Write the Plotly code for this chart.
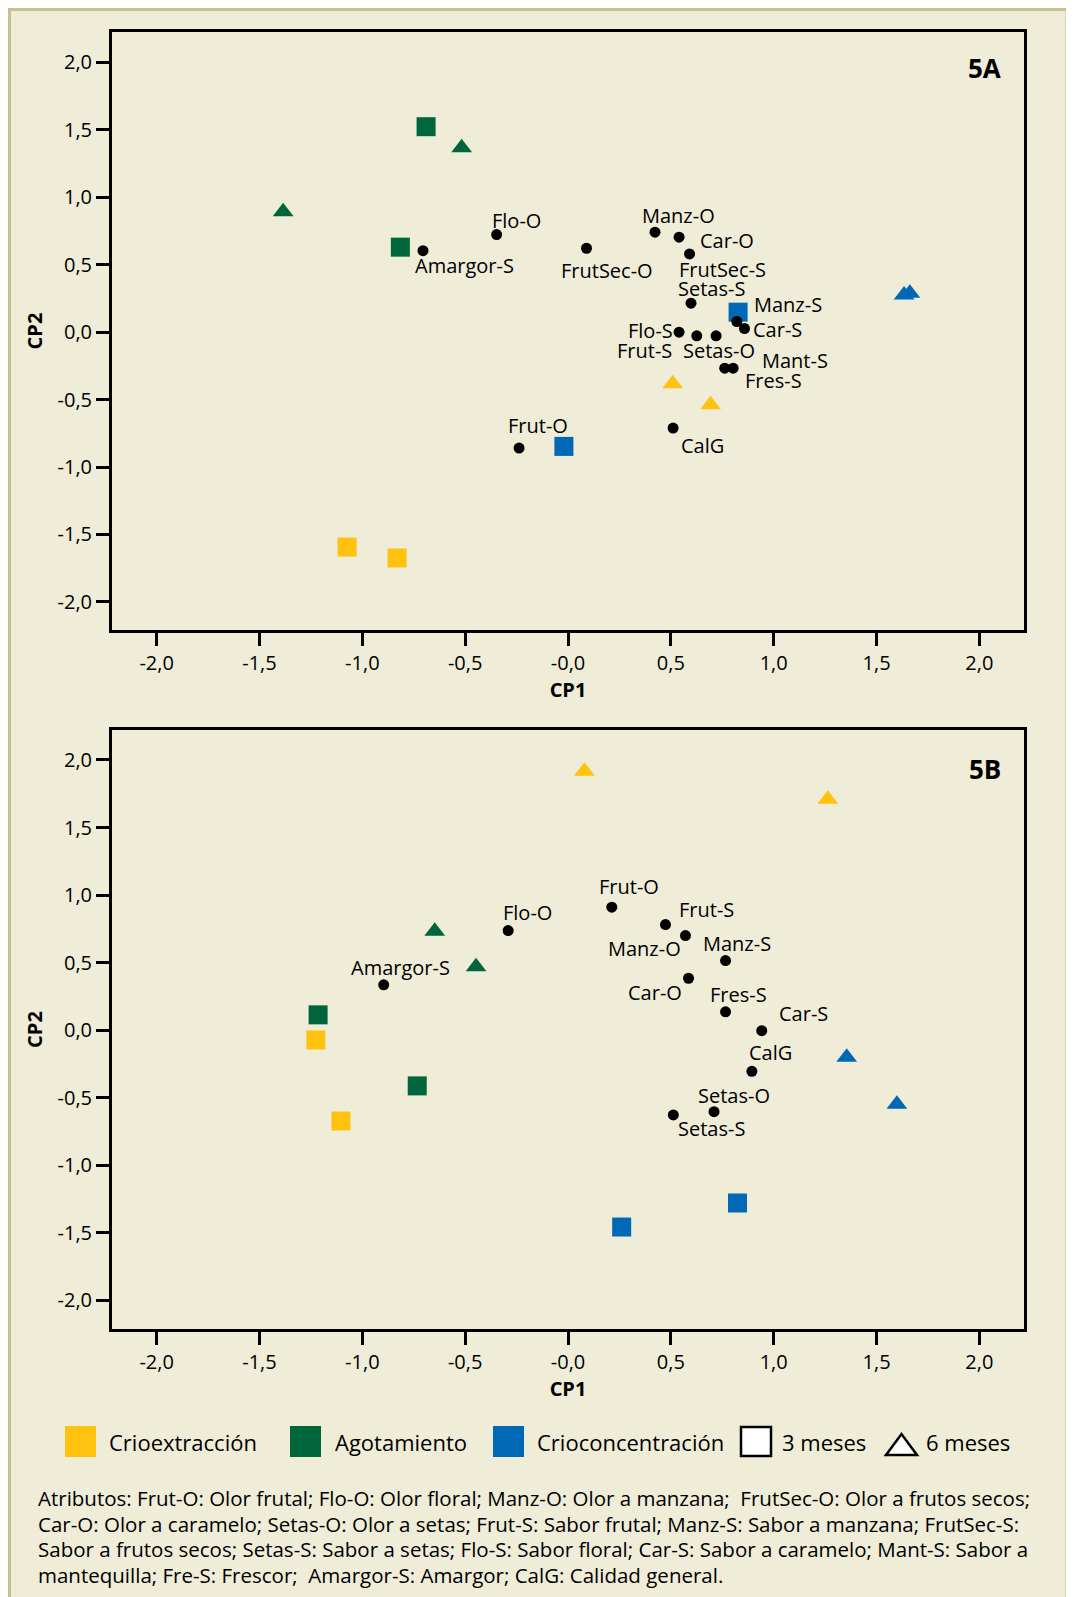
import plotly.graph_objects as go

OFF = 8  # page body margin
W, H = 1074 - OFF, 1597 - OFF
FONT = "Open Sans"

# ---------------- data ----------------
tick_vals = [-2.0, -1.5, -1.0, -0.5, 0.0, 0.5, 1.0, 1.5, 2.0]
x_tick_text = ["-2,0", "-1,5", "-1,0", "-0,5", "-0,0", "0,5", "1,0", "1,5", "2,0"]
y_tick_text = ["-2,0", "-1,5", "-1,0", "-0,5", "0,0", "0,5", "1,0", "1,5", "2,0"]

groups = ["Crioextracción", "Agotamiento", "Crioconcentración"]
group_colors = ["#FFC20E", "#00653A", "#0068B5"]
times = ["3 meses", "6 meses"]

# Panel 5A samples (CP1, CP2) by group and time
A_crio_3_cp1 = [-1.074, -0.831]
A_crio_3_cp2 = [-1.593, -1.674]
A_crio_6_cp1 = [0.509, 0.693]
A_crio_6_cp2 = [-0.383, -0.539]
A_agot_3_cp1 = [-0.690, -0.815]
A_agot_3_cp2 = [1.523, 0.630]
A_agot_6_cp1 = [-0.517, -1.385]
A_agot_6_cp2 = [1.367, 0.893]
A_conc_3_cp1 = [0.827, -0.020]
A_conc_3_cp2 = [0.148, -0.847]
A_conc_6_cp1 = [1.634, 1.662]
A_conc_6_cp2 = [0.276, 0.289]

# Panel 5A attributes
A_attr = ["Frut-O", "Flo-O", "Manz-O", "FrutSec-O", "Car-O", "Setas-O", "Frut-S", "Manz-S",
          "FrutSec-S", "Setas-S", "Flo-S", "Car-S", "Mant-S", "Fres-S", "Amargor-S", "CalG"]
A_attr_cp1 = [-0.238, -0.347, 0.423, 0.090, 0.540, 0.720, 0.626, 0.821,
              0.591, 0.598, 0.540, 0.858, 0.803, 0.762, -0.705, 0.511]
A_attr_cp2 = [-0.859, 0.723, 0.741, 0.622, 0.704, -0.027, -0.027, 0.079,
              0.580, 0.215, 0.000, 0.027, -0.267, -0.267, 0.604, -0.711]

# Panel 5B samples
B_crio_3_cp1 = [-1.226, -1.104]
B_crio_3_cp2 = [-0.073, -0.673]
B_crio_6_cp1 = [0.080, 1.263]
B_crio_6_cp2 = [1.917, 1.710]
B_agot_3_cp1 = [-1.215, -0.733]
B_agot_3_cp2 = [0.113, -0.413]
B_agot_6_cp1 = [-0.648, -0.447]
B_agot_6_cp2 = [0.732, 0.470]
B_conc_3_cp1 = [0.261, 0.824]
B_conc_3_cp2 = [-1.458, -1.280]
B_conc_6_cp1 = [1.355, 1.599]
B_conc_6_cp2 = [-0.201, -0.549]

# Panel 5B attributes
B_attr = ["Frut-O", "Flo-O", "Manz-O", "Car-O", "Setas-O", "Frut-S", "Manz-S", "Setas-S",
          "Car-S", "Fres-S", "Amargor-S", "CalG"]
B_attr_cp1 = [0.213, -0.291, 0.571, 0.586, 0.710, 0.474, 0.766, 0.512, 0.942, 0.766, -0.896, 0.894]
B_attr_cp2 = [0.910, 0.737, 0.700, 0.384, -0.604, 0.781, 0.515, -0.628, -0.004, 0.135, 0.335, -0.305]

footnote_lines = [
    "Atributos: Frut-O: Olor frutal; Flo-O: Olor floral; Manz-O: Olor a manzana; \u00a0FrutSec-O: Olor a frutos secos;",
    "Car-O: Olor a caramelo; Setas-O: Olor a setas; Frut-S: Sabor frutal; Manz-S: Sabor a manzana; FrutSec-S:",
    "Sabor a frutos secos; Setas-S: Sabor a setas; Flo-S: Sabor floral; Car-S: Sabor a caramelo; Mant-S: Sabor a",
    "mantequilla; Fre-S: Frescor; \u00a0Amargor-S: Amargor; CalG: Calidad general.",
]

# ---------------- label placement (style: pixel offsets of text from its dot) ----------------
A_lab_dx = [19, 20, 23, 20, 48, 3, -52, 51, 33, 20, -29, 33, 62, 49, 42, 29]
A_lab_dy = [-23, -14, -17, 22, 3, 15, 15, -17, 16, -15, -2, 1, -8, 12, 15, 17]
B_lab_dx = [17, 19, -41, -34, 20, 41, 11, 38, 42, 13, 17, 19]
B_lab_dy = [-21, -18, 13, 14, -16, -15, -17, 14, -17, -17, -17, -19]


def px(x):
    return (x - OFF) / W


def py(y):
    return 1 - (y - OFF) / H


fig = go.Figure()

panels = [
    ("x", "y",
     [(A_crio_3_cp1, A_crio_3_cp2), (A_agot_3_cp1, A_agot_3_cp2), (A_conc_3_cp1, A_conc_3_cp2)],
     [(A_crio_6_cp1, A_crio_6_cp2), (A_agot_6_cp1, A_agot_6_cp2), (A_conc_6_cp1, A_conc_6_cp2)],
     A_attr, A_attr_cp1, A_attr_cp2, A_lab_dx, A_lab_dy),
    ("x2", "y2",
     [(B_crio_3_cp1, B_crio_3_cp2), (B_agot_3_cp1, B_agot_3_cp2), (B_conc_3_cp1, B_conc_3_cp2)],
     [(B_crio_6_cp1, B_crio_6_cp2), (B_agot_6_cp1, B_agot_6_cp2), (B_conc_6_cp1, B_conc_6_cp2)],
     B_attr, B_attr_cp1, B_attr_cp2, B_lab_dx, B_lab_dy),
]

annotations = []
for xa, ya, s3, s6, names, ax_, ay_, ldx, ldy in panels:
    for g, (xs, ys) in enumerate(s3):
        fig.add_trace(go.Scatter(x=xs, y=ys, mode="markers", xaxis=xa, yaxis=ya,
                                 name=groups[g] + " " + times[0], showlegend=False,
                                 marker=dict(symbol="square", size=19, color=group_colors[g],
                                             line=dict(width=0))))
    for g, (xs, ys) in enumerate(s6):
        fig.add_trace(go.Scatter(x=xs, y=ys, mode="markers", xaxis=xa, yaxis=ya,
                                 name=groups[g] + " " + times[1], showlegend=False,
                                 marker=dict(symbol="triangle-up", size=18, color=group_colors[g],
                                             line=dict(width=0))))
    fig.add_trace(go.Scatter(x=ax_, y=ay_, mode="markers", xaxis=xa, yaxis=ya,
                             name="Atributos", text=names, showlegend=False,
                             marker=dict(symbol="circle", size=11, color="black", line=dict(width=0))))
    for n, xv, yv, dx, dy in zip(names, ax_, ay_, ldx, ldy):
        annotations.append(dict(x=xv, y=yv, xref=xa, yref=ya, text=n, showarrow=False,
                                xshift=dx, yshift=-dy, xanchor="center", yanchor="middle",
                                font=dict(family=FONT, size=20, color="black")))

# panel tags
annotations.append(dict(x=px(1003), y=py(68), xref="paper", yref="paper", text="<b>5A</b>",
                        showarrow=False, xanchor="right", yanchor="middle",
                        font=dict(family=FONT, size=26, color="black")))
annotations.append(dict(x=px(1003), y=py(769), xref="paper", yref="paper", text="<b>5B</b>",
                        showarrow=False, xanchor="right", yanchor="middle",
                        font=dict(family=FONT, size=26, color="black")))

# legend texts
leg_y = 1442
for txt, xl in [(groups[0], 107), (groups[1], 333), (groups[2], 535), (times[0], 780), (times[1], 924)]:
    annotations.append(dict(x=px(xl), y=py(leg_y), xref="paper", yref="paper", text=txt,
                            showarrow=False, xanchor="left", yanchor="middle",
                            font=dict(family=FONT, size=22, color="black")))

# footnote
for i, line in enumerate(footnote_lines):
    annotations.append(dict(x=px(36), y=py(1498 + i * 25.5), xref="paper", yref="paper", text=line,
                            showarrow=False, xanchor="left", yanchor="middle",
                            font=dict(family=FONT, size=20.5, color="black")))

shapes = [
    dict(type="rect", xref="paper", yref="paper", x0=px(9.5), x1=px(1067), y0=-0.02, y1=py(9.5),
         line=dict(color="#C9C18A", width=3), fillcolor="#EFECD8", layer="below"),
]
for xl, c in [(65, group_colors[0]), (290, group_colors[1]), (493, group_colors[2])]:
    shapes.append(dict(type="rect", xref="paper", yref="paper", x0=px(xl), x1=px(xl + 31),
                       y0=py(1457), y1=py(1426), line=dict(width=0), fillcolor=c))
shapes.append(dict(type="rect", xref="paper", yref="paper", x0=px(741), x1=px(771),
                   y0=py(1456), y1=py(1427), line=dict(width=2.5, color="black"), fillcolor="white"))
shapes.append(dict(type="path", xref="paper", yref="paper",
                   path=f"M {px(886)},{py(1455)} L {px(917)},{py(1455)} L {px(901.5)},{py(1434)} Z",
                   line=dict(width=2.5, color="black"), fillcolor="white"))

axis_common = dict(showline=True, linecolor="black", linewidth=3, mirror=True,
                   ticks="outside", ticklen=13, tickwidth=2.5, tickcolor="black",
                   showgrid=False, zeroline=False, tickvals=tick_vals,
                   tickfont=dict(family=FONT, size=20, color="black"))

xdom = [px(112), px(1024)]
fig.update_layout(
    width=W, height=H, margin=dict(l=0, r=0, t=0, b=0),
    paper_bgcolor="white", plot_bgcolor="rgba(0,0,0,0)",
    showlegend=False,
    xaxis=dict(domain=xdom, range=[-2.217, 2.217], ticktext=x_tick_text, anchor="y",
               title=dict(text="<b>CP1</b>", standoff=8, font=dict(family=FONT, size=20, color="black")),
               **axis_common),
    yaxis=dict(domain=[py(630), py(32)], range=[-2.208, 2.225], ticktext=y_tick_text, anchor="x",
               title=dict(text="<b>CP2</b>", standoff=10, font=dict(family=FONT, size=20, color="black")),
               **axis_common),
    xaxis2=dict(domain=xdom, range=[-2.217, 2.217], ticktext=x_tick_text, anchor="y2",
                title=dict(text="<b>CP1</b>", standoff=8, font=dict(family=FONT, size=20, color="black")),
                **axis_common),
    yaxis2=dict(domain=[py(1329), py(730)], range=[-2.213, 2.222], ticktext=y_tick_text, anchor="x2",
                title=dict(text="<b>CP2</b>", standoff=10, font=dict(family=FONT, size=20, color="black")),
                **axis_common),
    annotations=annotations,
    shapes=shapes,
)

fig.write_html("out.html")
